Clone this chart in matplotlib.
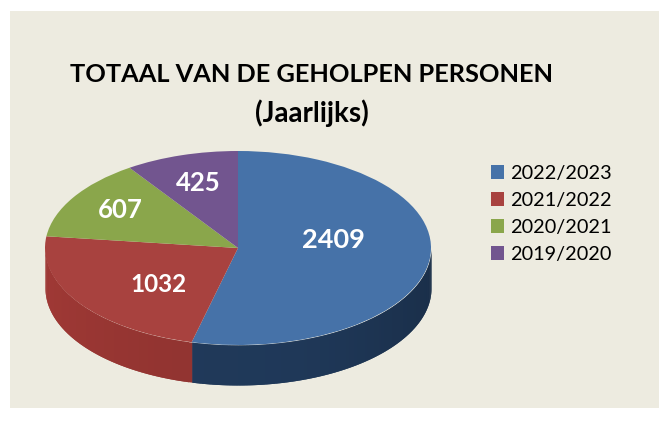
#!/usr/bin/env python3
"""
Pseudo-3D pie chart: total number of people helped per year.
"""

import numpy as np
import matplotlib
matplotlib.use("Agg")
import matplotlib.pyplot as plt
from matplotlib.patches import Rectangle

# Data
YEARS = ["2022/2023", "2021/2022", "2020/2021", "2019/2020"]
VALUES = [2409, 1032, 607, 425]
COLORS = ["#4672A8", "#A8423F", "#8AA64B", "#72558F"]
SIDE_COLORS = ["#1E3655", "#8A312E", "#66793A", "#523D69"]
TITLE_LINES = ["TOTAAL VAN DE GEHOLPEN PERSONEN", "(Jaarlijks)"]

W, H = 659, 437
BG = "#EDEBE0"
DEPTH = 40 / 97  # thickness of the pie, in units of the vertical radius

plt.rcParams['font.family'] = ['Lato', 'DejaVu Sans']

fig = plt.figure(figsize=(W / 100, H / 100), dpi=100, facecolor="white")
fig.add_artist(Rectangle((10 / W, 1 - 408 / H), (W - 10) / W, 397 / H, zorder=-1,
                         transform=fig.transFigure, facecolor=BG, edgecolor="none"))

# axes covers exactly the pie, the x/y scales differ so the circle is squashed
ax = fig.add_axes([45 / W, 1 - 385 / H, 386 / W, 234 / H])
wedges, _ = ax.pie(VALUES, colors=COLORS, startangle=90, counterclock=False,
                   radius=1, wedgeprops={"linewidth": 0}, frame=False)
ax.set_aspect("auto")
ax.set_xlim(-1, 1)
ax.set_ylim(-1 - DEPTH, 1)
ax.axis("off")

# ── side wall, overlapping strips so no seams show ────────────────────────────
ends = 90 - np.cumsum(VALUES) / np.sum(VALUES) * 360
starts = np.concatenate([[90], ends[:-1]])
for start, end, col in zip(starts, ends, SIDE_COLORS):
    rgb = np.array(matplotlib.colors.to_rgb(col))
    for a in np.arange(start, end, -1.0):
        lo = max(a - 2.0, end)
        if np.sin(np.radians(a - 0.5)) > 0:
            continue
        t = np.radians(np.linspace(a, lo, 4))
        # darker towards the right hand side of the wall, lighter to the left
        c = np.cos(np.radians(a - 0.5))
        shade = np.clip(rgb * (1.05 - 0.18 * max(c, 0) ** 2 + 0.1 * max(-c, 0) ** 2), 0, 1)
        ax.fill_between(np.cos(t), np.sin(t), np.sin(t) - DEPTH,
                        color=shade, linewidth=0, zorder=0)

# ── value labels ──────────────────────────────────────────────────────────────
LABEL_POS = [(333, 240), (158, 285), (120, 210), (198, 183)]
LABEL_SIZE = [19.5, 17.5, 18.5, 18.5]
for val, (px, py), size in zip(VALUES, LABEL_POS, LABEL_SIZE):
    fig.text(px / W, 1 - py / H, str(val), color="white", fontsize=size,
             fontweight="bold", ha="center", va="center")

# ── title ─────────────────────────────────────────────────────────────────────
for line, py, size in zip(TITLE_LINES, [75, 113], [18.3, 20]):
    fig.text(312 / W, 1 - py / H, line, fontsize=size, fontweight="bold", color="black",
             ha="center", va="center")

# ── legend ────────────────────────────────────────────────────────────────────
fig.legend(wedges, YEARS, loc="upper left", bbox_to_anchor=(491 / W, 1 - 165 / H),
           frameon=False, fontsize=14.3, handlelength=0.66, handleheight=0.66,
           handletextpad=0.3, labelspacing=0.5, borderpad=0, borderaxespad=0)

fig.savefig("out.png", dpi=100)
